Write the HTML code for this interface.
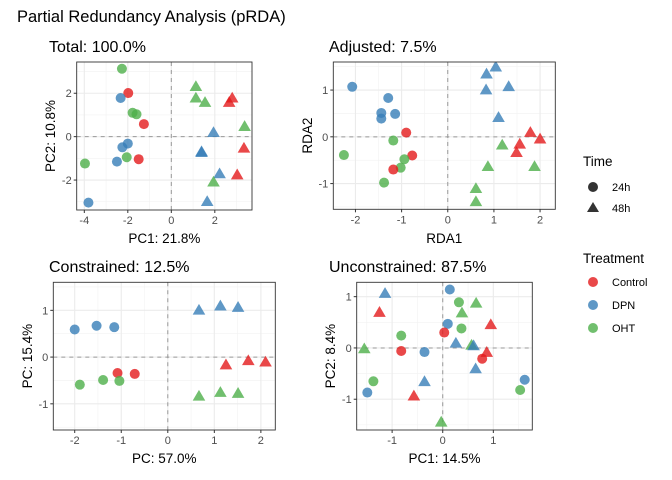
<!DOCTYPE html>
<html><head><meta charset="utf-8"><style>
body{margin:0;background:#fff}
svg{display:block;font-family:"Liberation Sans",Arial,sans-serif}
</style></head><body>
<svg id="chart" width="672" height="480" viewBox="0 0 672 480">
<text x="17" y="22" font-size="16.5" fill="#000">Partial Redundancy Analysis (pRDA)</text>
<g>
<text x="583" y="166" font-size="13.5">Time</text>
<circle cx="593" cy="187" r="5" fill="#333"/>
<text x="612" y="191" font-size="11">24h</text>
<polygon points="593,202 599,212 587,212" fill="#333"/>
<text x="612" y="212" font-size="11">48h</text>
</g>
<g>
<text x="583" y="263" font-size="13.5">Treatment</text>
<circle cx="593" cy="282" r="5" fill="#E41A1C" fill-opacity="0.8"/>
<text x="612" y="286" font-size="11">Control</text>
<circle cx="593" cy="305" r="5" fill="#377EB8" fill-opacity="0.8"/>
<text x="612" y="309" font-size="11">DPN</text>
<circle cx="593" cy="328" r="5" fill="#4DAF4A" fill-opacity="0.8"/>
<text x="612" y="332" font-size="11">OHT</text>
</g>
</svg>
<script>
// Panel 1: Total
const p1X=[-2.27,-1.98,-2.33,-1.78,-1.6,-1.26,-2.0,-2.25,-2.05,-1.5,-2.5,-3.97,-3.81,1.13,1.13,1.55,2.8,2.66,3.37,1.94,1.39,1.39,3.34,2.22,3.03,1.94,1.65];
const p1Y=[3.13,2.01,1.78,1.1,1.03,0.58,-0.32,-0.49,-0.95,-1.04,-1.15,-1.24,-3.04,2.3,1.77,1.57,1.77,1.57,0.46,0.18,-0.74,-0.7,-0.54,-1.72,-1.77,-2.1,-3.0];
const p1G=["O","C","D","O","O","C","D","D","O","C","D","O","D","O","O","O","C","C","O","D","D","D","C","D","C","O","D"];
const p1T=["24","24","24","24","24","24","24","24","24","24","24","24","24","48","48","48","48","48","48","48","48","48","48","48","48","48","48"];
// Panel 2: Adjusted
const p2X=[-2.07,-1.29,-1.44,-1.44,-1.14,-0.9,-1.18,-2.25,-0.77,-0.94,-1.02,-1.18,-1.38,1.04,0.84,0.83,1.32,1.1,1.79,2.0,1.56,1.49,1.18,0.87,1.88,0.61,0.61];
const p2Y=[1.07,0.83,0.51,0.39,0.49,0.09,-0.08,-0.39,-0.4,-0.48,-0.66,-0.7,-0.98,1.49,1.34,1.0,1.07,0.41,0.09,-0.05,-0.16,-0.34,-0.18,-0.64,-0.64,-1.11,-1.39];
const p2G=["D","D","D","D","D","C","O","O","C","O","O","C","O","D","D","D","D","D","C","C","C","C","O","O","O","O","O"];
const p2T=["24","24","24","24","24","24","24","24","24","24","24","24","24","48","48","48","48","48","48","48","48","48","48","48","48","48","48"];
// Panel 3: Constrained
const p3X=[-2.0,-1.53,-1.15,-1.08,-0.71,-1.89,-1.39,-1.04,0.67,1.13,1.51,1.25,1.73,2.1,0.67,1.13,1.51];
const p3Y=[0.59,0.67,0.64,-0.34,-0.36,-0.59,-0.49,-0.51,1.0,1.09,1.06,-0.17,-0.08,-0.11,-0.84,-0.76,-0.78];
const p3G=["D","D","D","C","C","O","O","O","D","D","D","C","C","C","O","O","O"];
const p3T=["24","24","24","24","24","24","24","24","48","48","48","48","48","48","48","48","48"];
// Panel 4: Unconstrained
const p4X=[0.14,0.32,0.1,0.37,0.03,-0.82,-0.82,-0.36,0.78,-1.37,-1.49,1.62,1.53,-1.14,-1.25,0.66,0.38,0.95,0.26,0.57,0.61,0.87,-1.55,0.65,-0.36,-0.57,-0.03];
const p4Y=[1.14,0.89,0.47,0.38,0.3,0.24,-0.06,-0.08,-0.21,-0.65,-0.87,-0.62,-0.82,1.06,0.69,0.87,0.68,0.45,0.09,0.05,0.04,-0.09,-0.02,-0.41,-0.66,-0.94,-1.45];
const p4G=["D","O","D","O","C","O","C","D","C","O","D","D","O","D","C","O","O","C","D","O","D","C","O","D","D","C","O"];
const p4T=["24","24","24","24","24","24","24","24","24","24","24","24","24","48","48","48","48","48","48","48","48","48","48","48","48","48","48"];
const p1XTicks=[-4,-2,0,2], p1YTicks=[-2,0,2];
const p2XTicks=[-2,-1,0,1,2], p2YTicks=[-1,0,1];
const p3XTicks=[-2,-1,0,1,2], p3YTicks=[-1,0,1];
const p4XTicks=[-1,0,1], p4YTicks=[-1,0,1];
const colors={C:"#E41A1C",D:"#377EB8",O:"#4DAF4A"};
const NS="http://www.w3.org/2000/svg";
const svg=document.getElementById('chart');
function mk(tag,attrs,parent){const e=document.createElementNS(NS,tag);for(const k in attrs)e.setAttribute(k,attrs[k]);parent.appendChild(e);return e;}
const panels=[
 {id:"total",title:"Total: 100.0%",tx:49,ty:52,box:[76.7,62,252,210],xd:[-4.35,3.71],yd:[-3.38,3.44],xt:p1XTicks,yt:p1YTicks,xs:2,ys:2,xl:"PC1: 21.8%",yl:"PC2: 10.8%",xly:243,ylx:55,X:p1X,Y:p1Y,G:p1G,T:p1T},
 {id:"adjusted",title:"Adjusted: 7.5%",tx:329,ty:52,box:[333.3,62,555.3,209.3],xd:[-2.48,2.33],yd:[-1.55,1.6],xt:p2XTicks,yt:p2YTicks,xs:1,ys:1,xl:"RDA1",yl:"RDA2",xly:243,ylx:312,X:p2X,Y:p2Y,G:p2G,T:p2T},
 {id:"constrained",title:"Constrained: 12.5%",tx:49,ty:272,box:[53.3,282.3,275.3,430],xd:[-2.46,2.31],yd:[-1.56,1.6],xt:p3XTicks,yt:p3YTicks,xs:1,ys:1,xl:"PC: 57.0%",yl:"PC: 15.4%",xly:463,ylx:32,X:p3X,Y:p3Y,G:p3G,T:p3T},
 {id:"unconstrained",title:"Unconstrained: 87.5%",tx:329,ty:272,box:[356.7,282.3,532.3,430],xd:[-1.70,1.77],yd:[-1.6,1.28],xt:p4XTicks,yt:p4YTicks,xs:1,ys:1,xl:"PC1: 14.5%",yl:"PC2: 8.4%",xly:463,ylx:335,X:p4X,Y:p4Y,G:p4G,T:p4T}
];
panels.forEach(p=>{
 const [x0,y0,x1,y1]=p.box;
 const sx=v=>x0+(v-p.xd[0])/(p.xd[1]-p.xd[0])*(x1-x0);
 const sy=v=>y1-(v-p.yd[0])/(p.yd[1]-p.yd[0])*(y1-y0);
 const g=mk('g',{},svg);
 
 
 const t=mk('text',{x:p.tx,y:p.ty,'font-size':16,fill:'#000'},g);t.textContent=p.title;
 
 
 const clip=mk('clipPath',{id:'c-'+p.id},g);mk('rect',{x:x0,y:y0,width:x1-x0,height:y1-y0},clip);
 const grid=mk('g',{'clip-path':'url(#c-'+p.id+')'},g);
 
 
 // minor grid
 for(let v=Math.floor(p.xd[0]/p.xs)*p.xs-p.xs/2;v<=p.xd[1];v+=p.xs){mk('line',{x1:sx(v),x2:sx(v),y1:y0,y2:y1,stroke:'#f2f2f2','stroke-width':0.6},grid);}
 for(let v=Math.floor(p.yd[0]/p.ys)*p.ys-p.ys/2;v<=p.yd[1];v+=p.ys){mk('line',{x1:x0,x2:x1,y1:sy(v),y2:sy(v),stroke:'#f2f2f2','stroke-width':0.6},grid);}
 p.xt.forEach(v=>mk('line',{x1:sx(v),x2:sx(v),y1:y0,y2:y1,stroke:'#ebebeb','stroke-width':1.1},grid));
 p.yt.forEach(v=>mk('line',{x1:x0,x2:x1,y1:sy(v),y2:sy(v),stroke:'#ebebeb','stroke-width':1.1},grid));
 const zx=mk('line',{x1:sx(0),x2:sx(0),y1:y0,y2:y1,stroke:'#999','stroke-dasharray':'4,4','stroke-width':1},grid);
 
 
 const zy=mk('line',{x1:x0,x2:x1,y1:sy(0),y2:sy(0),stroke:'#999','stroke-dasharray':'4,4','stroke-width':1},grid);
 
 
 const pts=mk('g',{'clip-path':'url(#c-'+p.id+')'},g);
 
 
 p.X.forEach((xv,i)=>{
  const cx=sx(xv),cy=sy(p.Y[i]),col=colors[p.G[i]];let m;
  if(p.T[i]==="24"){m=mk('circle',{cx:cx,cy:cy,r:5,fill:col,'fill-opacity':0.8},pts);}
  else{m=mk('polygon',{points:`${cx},${cy-6.5} ${cx+6.3},${cy+4.3} ${cx-6.3},${cy+4.3}`,fill:col,'fill-opacity':0.8},pts);}
  
  
 });
 const b=mk('rect',{x:x0,y:y0,width:x1-x0,height:y1-y0,fill:'none',stroke:'#333','stroke-width':0.9},g);
 
 
 p.xt.forEach(v=>{
  mk('line',{x1:sx(v),x2:sx(v),y1:y1,y2:y1+3,stroke:'#333'},g);
  const l=mk('text',{x:sx(v),y:y1+14,'font-size':11,fill:'#4d4d4d','text-anchor':'middle'},g);l.textContent=v;
  
  
 });
 p.yt.forEach(v=>{
  mk('line',{x1:x0-3,x2:x0,y1:sy(v),y2:sy(v),stroke:'#333'},g);
  const l=mk('text',{x:x0-5,y:sy(v)+4,'font-size':11,fill:'#4d4d4d','text-anchor':'end'},g);l.textContent=v;
  
  
 });
 const xl=mk('text',{x:(x0+x1)/2,y:p.xly,'font-size':13.5,'text-anchor':'middle'},g);xl.textContent=p.xl;
 
 
 const yc=(y0+y1)/2;
 const yl=mk('text',{x:p.ylx,y:yc,'font-size':13.5,'text-anchor':'middle',transform:`rotate(-90 ${p.ylx} ${yc})`},g);yl.textContent=p.yl;
 
 
});
</script>
</body></html>
